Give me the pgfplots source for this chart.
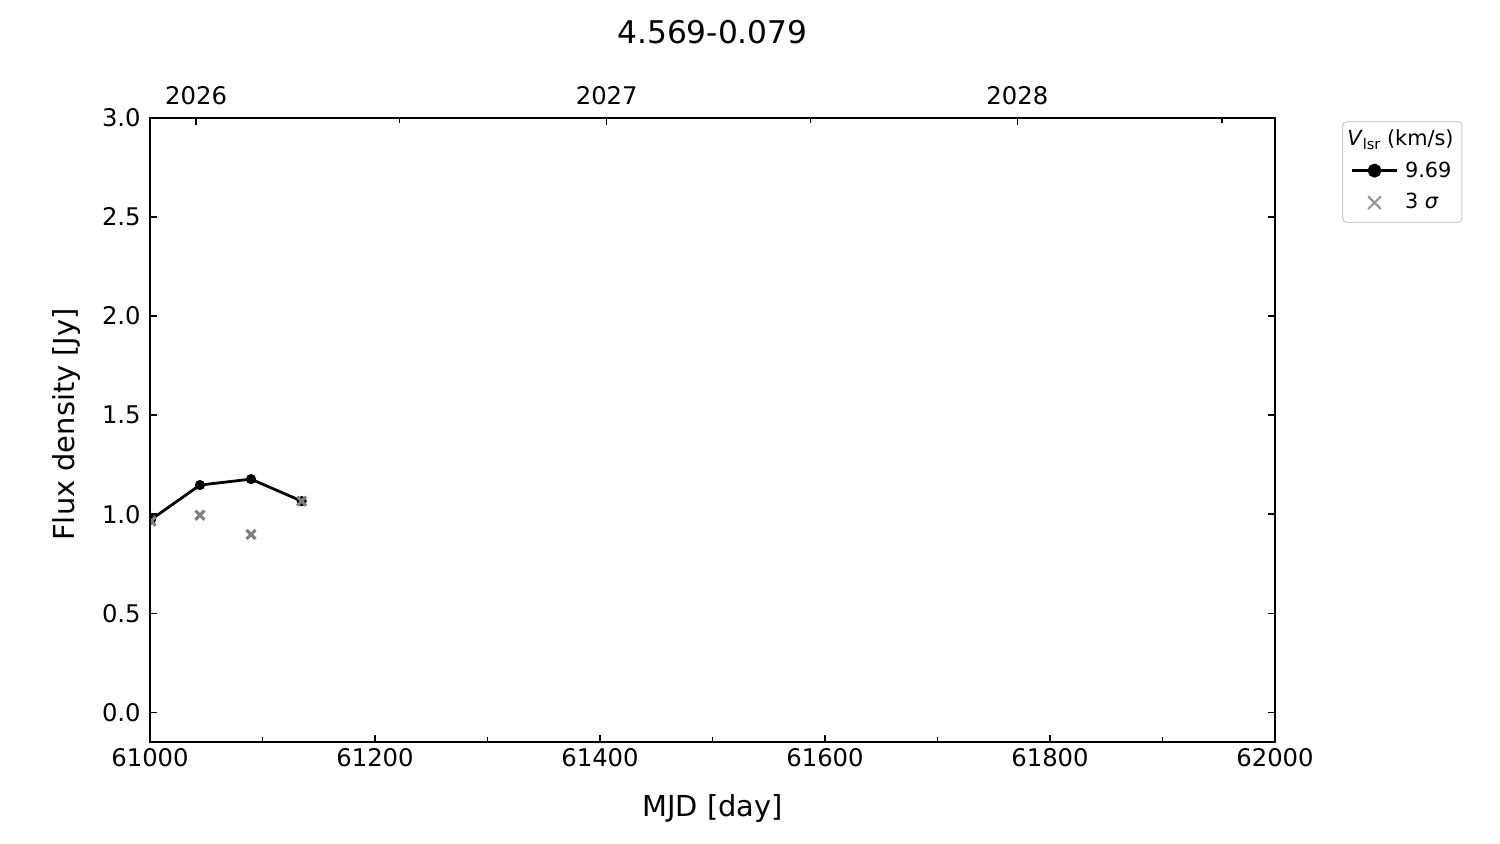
\documentclass[border=0pt]{standalone}
\usepackage{fontspec}
\setmainfont{DejaVu Sans}
\usepackage{pgfplots}
\pgfplotsset{compat=1.18}
\definecolor{crossgray}{RGB}{128,128,128}
\definecolor{leggray}{RGB}{204,204,204}
\pgfplotsset{
  linelegend/.style={legend image code/.code={\draw[##1, mark size=4pt, mark repeat=2, mark phase=2] plot coordinates {(0pt,1pt) (16pt,1pt) (32pt,1pt)};}},
  crosslegend/.style={legend image code/.code={\draw[##1, crossgray!85!white, mark options={scale=1.4, line width=1.5pt}] plot coordinates {(16pt,0.4pt)};}},
}
\begin{document}
\begin{tikzpicture}
\useasboundingbox (-108pt,-73.44pt) rectangle (972pt,534.24pt);
\begin{axis}[
  at={(0pt,0pt)}, anchor=south west,
  scale only axis, width=810pt, height=449.28pt,
  xmin=61000, xmax=62000, ymin=-0.15, ymax=3.0,
  xtick={61000,61200,61400,61600,61800,62000},
  minor xtick={61100,61300,61500,61700,61900},
  ytick={0,0.5,1,1.5,2,2.5,3},
  scaled x ticks=false, scaled y ticks=false,
  tick align=inside, xtick pos=left, ytick pos=both,
  major tick length=5pt, minor tick length=3.5pt,
  tick style={black, line width=1pt},
  axis line style={line width=1.2pt},
  /pgf/number format/assume math mode=true,
  tick label style={font=\fontsize{17.5pt}{21pt}\selectfont, inner sep=0pt},
  xticklabel style={anchor=base, yshift=-18pt, /pgf/number format/.cd, fixed, precision=0, set thousands separator={}},
  yticklabel style={anchor=east, xshift=-6.5pt, /pgf/number format/.cd, fixed, fixed zerofill, precision=1},
  xlabel={MJD [day]}, ylabel={Flux density [Jy]},
  label style={font=\fontsize{20.8pt}{25pt}\selectfont},
  xlabel style={at={(axis description cs:0.5,-0.1186)}, anchor=base},
  ylabel style={at={(axis description cs:-0.0667,0.509)}, anchor=base},
  title={4.569-0.079},
  title style={font=\fontsize{22.5pt}{27pt}\selectfont, at={(axis description cs:0.5,1.1197)}, anchor=base, yshift=-6pt},
  clip marker paths=true,
  legend style={at={(axis description cs:1.0596,0.995)}, anchor=north west,
    draw=leggray, line width=0.8pt, rounded corners=3pt,
    font=\fontsize{15pt}{18pt}\selectfont,
    inner xsep=6pt, inner ysep=6.5pt, row sep=8pt, column sep=5pt,
    nodes={inner sep=0pt, text height=11pt, text depth=3.5pt}},
  legend cell align=left,
]
\addlegendimage{empty legend}
\addlegendentry{\hspace{-41.6pt}\textit{V}\raisebox{-0.3ex}{\fontsize{10.5pt}{12pt}\selectfont lsr}\ (km/s)}
\addplot[black, line width=2pt, mark=*, mark size=2.6pt, linelegend]
  coordinates {(61001,0.973) (61044.4,1.147) (61089.8,1.177) (61134.8,1.066)};
\addlegendentry{9.69}
\addplot[only marks, crossgray, mark=x, mark size=4.6pt, line width=2.2pt, crosslegend]
  coordinates {(61001,0.965) (61044.4,0.995) (61089.8,0.898) (61134.8,1.066)};
\addlegendentry{3 \textit{σ}}
\end{axis}
\begin{axis}[
  at={(0pt,0pt)}, anchor=south west,
  scale only axis, width=810pt, height=449.28pt,
  xmin=61000, xmax=62000, ymin=0, ymax=1,
  scaled x ticks=false,
  xtick pos=right, ytick=\empty,
  xtick={61041,61406,61771}, xticklabels={2026,2027,2028},
  minor xtick={61222,61587,61953},
  tick align=inside, major tick length=5pt, minor tick length=3.5pt,
  tick style={black, line width=1pt},
  axis line style={line width=1.2pt},
  xticklabel style={font=\fontsize{17.5pt}{21pt}\selectfont, inner sep=0pt, anchor=base, yshift=9.4pt},
]
\end{axis}
\end{tikzpicture}
\end{document}
